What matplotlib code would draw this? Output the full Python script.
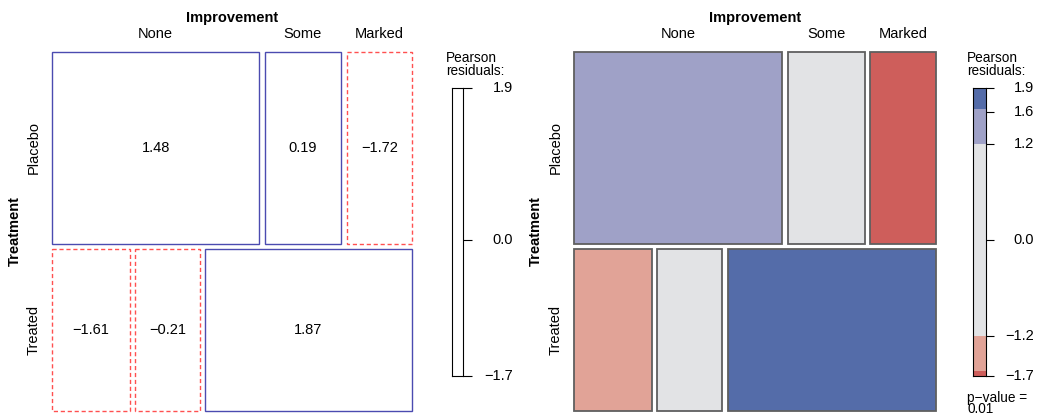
import matplotlib
matplotlib.use("Agg")
import matplotlib.pyplot as plt
from matplotlib.patches import Rectangle
from matplotlib.transforms import blended_transform_factory
import numpy as np

plt.rcParams['font.family'] = ['Liberation Sans', 'DejaVu Sans']

# data
treatments = ['Placebo', 'Treated']
improvement = ['None', 'Some', 'Marked']
counts = np.array([[19, 7, 6],
                   [6, 5, 16]])
residuals = np.array([[1.48, 0.19, -1.72],
                      [-1.61, -0.21, 1.87]])
legend_ticks_left = [1.9, 0.0, -1.7]
legend_ticks_right = [1.9, 1.6, 1.2, 0.0, -1.2, -1.7]
res_min, res_max = -1.7, 1.9
cut_lo, cut_hi = 1.2, 1.64
shade_colors = {'hi': '#546ca9', 'mid_hi': '#9fa1c7', 'zero': '#e2e3e5',
                'mid_lo': '#e1a397', 'lo': '#ce5e5b'}
p_value = '0.01'

W, H = 1038, 416
fig = plt.figure(figsize=(W / 100, H / 100), dpi=100)
FS = 10.5


def fig_axes(x0, y0, x1, y1):
    # pixel box -> figure fraction
    return fig.add_axes([x0 / W, 1 - y1 / H, (x1 - x0) / W, (y1 - y0) / H])


def minus(s):
    return s.replace('-', '\u2212')


def shade(r):
    a = abs(r)
    if a < cut_lo:
        return shade_colors['zero']
    if r > 0:
        return shade_colors['hi'] if a >= cut_hi else shade_colors['mid_hi']
    return shade_colors['lo'] if a >= cut_hi else shade_colors['mid_lo']


def mosaic(ax, style):
    gap = 0.015
    ax.set_xlim(0, 1)
    ax.set_ylim(1, 0)
    ax.axis('off')
    row_tot = counts.sum(axis=1)
    heights = row_tot / row_tot.sum() * (1 - gap)
    y = 0
    cells = {}
    for i in range(len(treatments)):
        widths = counts[i] / row_tot[i] * (1 - gap * (len(improvement) - 1))
        x = 0
        for j in range(len(improvement)):
            r = residuals[i, j]
            if style == 'friendly':
                if r >= 0:
                    rect = Rectangle((x, y), widths[j], heights[i], fill=False,
                                     edgecolor='#4b4bb0', lw=1.0)
                else:
                    rect = Rectangle((x, y), widths[j], heights[i], fill=False,
                                     edgecolor='#ff5050', lw=1.0, ls=(0, (3, 2)))
                ax.text(x + widths[j] / 2, y + heights[i] / 2, minus(f'{r:.2f}'),
                        ha='center', va='center', fontsize=FS)
            else:
                rect = Rectangle((x, y), widths[j], heights[i], facecolor=shade(r),
                                 edgecolor='#5f5f5f', lw=1.3)
            rect.set_clip_on(False)
            ax.add_patch(rect)
            cells[(i, j)] = (x, y, widths[j], heights[i])
            x += widths[j] + gap
        y += heights[i] + gap
    # labels
    for j, name in enumerate(improvement):
        x, _, w, _ = cells[(0, j)]
        ax.text(x + w / 2, -0.03, name, ha='center', va='bottom', fontsize=FS,
                clip_on=False)
    ax.text(0.5, -0.074, 'Improvement', ha='center', va='bottom', fontsize=FS,
            fontweight='bold', clip_on=False)
    for i, name in enumerate(treatments):
        _, y, _, h = cells[(i, 0)]
        ax.text(-0.032, y + h / 2, name, ha='right', va='center', rotation=90,
                fontsize=FS, clip_on=False)
    ax.text(-0.085, 0.5, 'Treatment', ha='right', va='center', rotation=90,
            fontsize=FS, fontweight='bold', clip_on=False)


def legend(ax, ticks, shaded, bar_px, label_right_px, tick_px):
    ax.set_ylim(res_min, res_max)
    ax.set_xlim(0, 1)
    if shaded:
        bands = [(res_min, -cut_hi, shade_colors['lo']), (-cut_hi, -cut_lo, shade_colors['mid_lo']),
                 (-cut_lo, cut_lo, shade_colors['zero']), (cut_lo, cut_hi, shade_colors['mid_hi']),
                 (cut_hi, res_max, shade_colors['hi'])]
        for lo, hi, c in bands:
            ax.add_patch(Rectangle((0, lo), 1, hi - lo, facecolor=c, edgecolor='none'))
    ax.set_xticks([])
    ax.yaxis.tick_right()
    ax.set_yticks(ticks)
    ax.set_yticklabels([])
    ax.tick_params(axis='y', length=tick_px * 0.72, width=0.8, direction='out')
    for s in ax.spines.values():
        s.set_linewidth(0.8)
    trans = blended_transform_factory(ax.transAxes, ax.transData)
    xr = 1 + label_right_px / bar_px
    for t in ticks:
        ax.text(xr, t, minus(f'{t:.1f}'), ha='right', va='center', fontsize=FS,
                transform=trans, clip_on=False)
    ax.text(-6 / bar_px, res_max + 0.12, 'Pearson\nresiduals:', ha='left', va='bottom',
            fontsize=9.8, linespacing=0.9, clip_on=False, transform=trans)


# left: Friendly-style outlines
ax1 = fig_axes(52, 52, 412, 411)
mosaic(ax1, 'friendly')
lg1 = fig_axes(452, 88, 463, 376)
legend(lg1, legend_ticks_left, False, 11, 50, 9)

# right: shaded mosaic
ax2 = fig_axes(574, 52, 936, 411)
mosaic(ax2, 'shade')
lg2 = fig_axes(973, 88, 986, 376)
legend(lg2, legend_ticks_right, True, 13, 48, 8)
lg2.text(-6 / 13, res_min - 0.19, 'p\u2212value =\n' + p_value, ha='left', va='top',
         fontsize=9.8, linespacing=0.72, clip_on=False,
         transform=blended_transform_factory(lg2.transAxes, lg2.transData))

fig.savefig('out.png', dpi=100)
